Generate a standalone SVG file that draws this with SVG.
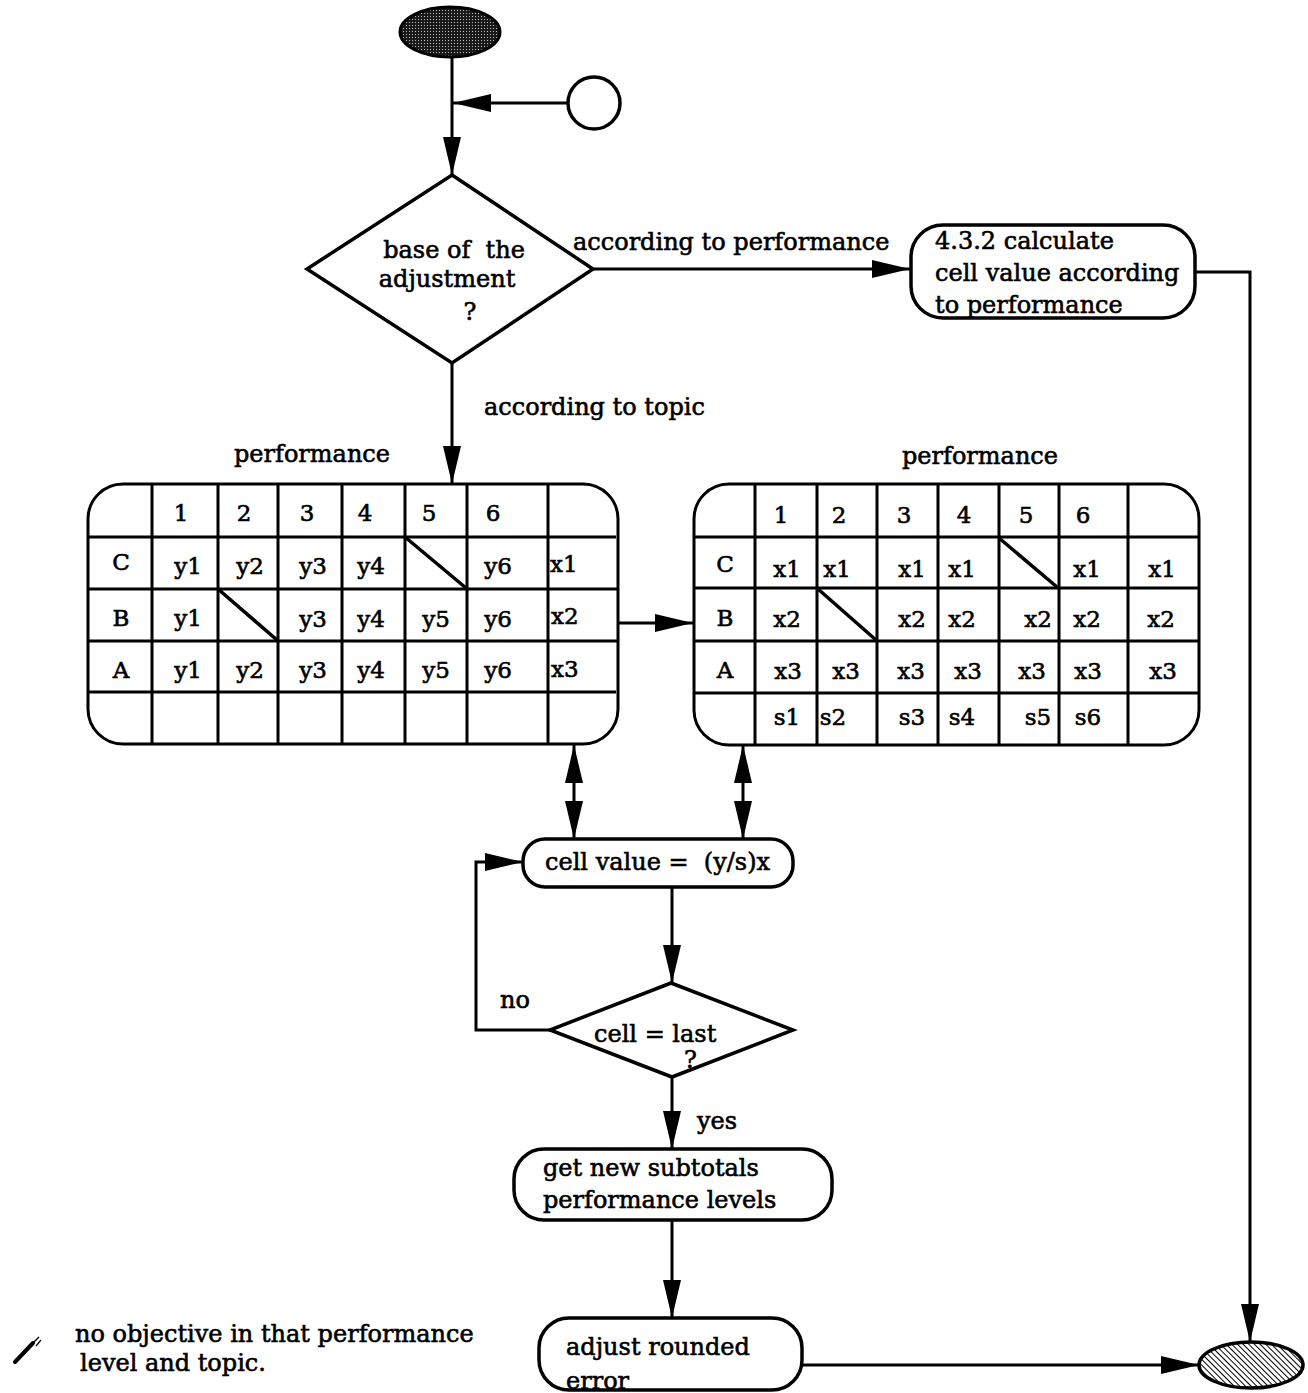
<svg xmlns="http://www.w3.org/2000/svg" width="1308" height="1393" viewBox="0 0 1308 1393">
<style>
  text { font-family: "DejaVu Serif", "Liberation Serif", serif; font-size: 24px; fill: #000; stroke: #000; stroke-width: 0.6px; }
  .tb { font-size: 23px; }
  .c { text-anchor: middle; }
  .ln { fill: none; stroke: #000; stroke-width: 3; }
  .shape { fill: #fff; stroke: #000; stroke-width: 3.5; }
  .grid { stroke: #000; stroke-width: 3; fill: none; }
  .diag { stroke: #000; stroke-width: 3.5; }
</style>
<defs>
  <marker id="ah" markerUnits="userSpaceOnUse" markerWidth="40" markerHeight="20" refX="38" refY="9" orient="auto-start-reverse">
    <path d="M0,0 L38,9 L0,18 z" fill="#000"/>
  </marker>
  <pattern id="stip" width="3" height="3" patternUnits="userSpaceOnUse">
    <rect width="3" height="3" fill="#1a1a1a"/>
    <rect x="1" y="1" width="1" height="1" fill="#bbb"/>
  </pattern>
  <pattern id="hatch" width="4" height="4" patternUnits="userSpaceOnUse" patternTransform="rotate(-45)">
    <rect width="4" height="4" fill="#fff"/>
    <line x1="0" y1="0" x2="0" y2="4" stroke="#000" stroke-width="2"/>
  </pattern>
</defs>

<g id="connectors">
  <line class="ln" x1="452" y1="57" x2="452" y2="175" marker-end="url(#ah)"/>
  <line class="ln" x1="568" y1="103" x2="453" y2="103" marker-end="url(#ah)"/>
  <line class="ln" x1="593" y1="269" x2="910" y2="269" marker-end="url(#ah)"/>
  <polyline class="ln" points="1195,272 1250,272 1250,1342" marker-end="url(#ah)"/>
  <line class="ln" x1="452" y1="363" x2="452" y2="484" marker-end="url(#ah)"/>
  <line class="ln" x1="618" y1="623" x2="693" y2="623" marker-end="url(#ah)"/>
  <line class="ln" x1="574" y1="745" x2="574" y2="839" marker-start="url(#ah)" marker-end="url(#ah)"/>
  <line class="ln" x1="743" y1="745" x2="743" y2="839" marker-start="url(#ah)" marker-end="url(#ah)"/>
  <line class="ln" x1="672" y1="887" x2="672" y2="983" marker-end="url(#ah)"/>
  <polyline class="ln" points="550,1030 476,1030 476,862 523,862" marker-end="url(#ah)"/>
  <line class="ln" x1="672" y1="1077" x2="672" y2="1149" marker-end="url(#ah)"/>
  <line class="ln" x1="672" y1="1220" x2="672" y2="1318" marker-end="url(#ah)"/>
  <line class="ln" x1="802" y1="1365" x2="1199" y2="1365" marker-end="url(#ah)"/>
  <text x="573" y="250">according to performance</text>
  <text x="484" y="415">according to topic</text>
  <text x="500" y="1008">no</text>
  <text x="697" y="1129">yes</text>
</g>

<g id="start">
  <ellipse cx="450" cy="32" rx="50" ry="25" fill="url(#stip)" stroke="#000" stroke-width="3"/>
</g>

<g id="entry">
  <circle cx="594" cy="103" r="26" class="shape" stroke-width="3"/>
</g>

<g id="decision-base">
  <polygon class="shape" points="452,175 593,269 452,363 307,269"/>
  <text class="c" x="454" y="258" xml:space="preserve">base of  the</text>
  <text class="c" x="447" y="287">adjustment</text>
  <text class="c" x="470" y="320">?</text>
</g>

<g id="calc-432">
  <rect class="shape" x="911" y="225" width="284" height="93" rx="32"/>
  <text x="935" y="249">4.3.2 calculate</text>
  <text x="935" y="281">cell value according</text>
  <text x="935" y="313">to performance</text>
</g>

<g id="table-topic">
  <text class="c" x="312" y="462">performance</text>
  <rect class="grid" x="88" y="484" width="530" height="260" rx="35"/>
  <path class="grid" d="M152,484V744 M218,484V744 M278,484V744 M342,484V744 M405,484V744 M467,484V744 M548,484V744
    M88,537H616 M88,589H618 M88,641H618 M88,692H616"/>
  <line class="diag" x1="405" y1="537" x2="466" y2="588"/>
  <line class="diag" x1="218" y1="589" x2="277" y2="640"/>
  <text class="c tb" x="181" y="521">1</text><text class="c tb" x="244" y="521">2</text><text class="c tb" x="307" y="521">3</text>
  <text class="c tb" x="365" y="521">4</text><text class="c tb" x="429" y="521">5</text><text class="c tb" x="493" y="521">6</text>
  <text class="c tb" x="121" y="570">C</text>
  <text class="c tb" x="188" y="574">y1</text><text class="c tb" x="250" y="574">y2</text><text class="c tb" x="313" y="574">y3</text>
  <text class="c tb" x="371" y="574">y4</text><text class="c tb" x="498" y="574">y6</text><text class="tb" x="550" y="572">x1</text>
  <text class="c tb" x="121" y="626">B</text>
  <text class="c tb" x="188" y="626">y1</text><text class="c tb" x="313" y="627">y3</text>
  <text class="c tb" x="371" y="627">y4</text><text class="c tb" x="436" y="627">y5</text><text class="c tb" x="498" y="627">y6</text><text class="tb" x="551" y="624">x2</text>
  <text class="c tb" x="121" y="678">A</text>
  <text class="c tb" x="188" y="678">y1</text><text class="c tb" x="250" y="678">y2</text><text class="c tb" x="313" y="678">y3</text>
  <text class="c tb" x="371" y="678">y4</text><text class="c tb" x="436" y="678">y5</text><text class="c tb" x="498" y="678">y6</text><text class="tb" x="551" y="677">x3</text>
</g>

<g id="table-performance">
  <text class="c" x="980" y="464">performance</text>
  <rect class="grid" x="694" y="484" width="505" height="261" rx="35"/>
  <path class="grid" d="M755,484V745 M817,484V745 M877,484V745 M938,484V745 M999,484V745 M1059,484V745 M1128,484V745
    M694,537H1199 M694,588H1199 M694,641H1199 M694,693H1199"/>
  <line class="diag" x1="999" y1="538" x2="1057" y2="587"/>
  <line class="diag" x1="818" y1="589" x2="876" y2="640"/>
  <text class="c tb" x="781" y="523">1</text><text class="c tb" x="839" y="523">2</text><text class="c tb" x="904" y="523">3</text>
  <text class="c tb" x="964" y="523">4</text><text class="c tb" x="1026" y="523">5</text><text class="c tb" x="1083" y="523">6</text>
  <text class="c tb" x="725" y="572">C</text>
  <text class="c tb" x="787" y="577">x1</text><text class="c tb" x="837" y="577">x1</text><text class="c tb" x="912" y="577">x1</text>
  <text class="c tb" x="962" y="577">x1</text><text class="c tb" x="1087" y="577">x1</text><text class="c tb" x="1162" y="577">x1</text>
  <text class="c tb" x="725" y="626">B</text>
  <text class="c tb" x="787" y="627">x2</text><text class="c tb" x="912" y="627">x2</text><text class="c tb" x="962" y="627">x2</text>
  <text class="c tb" x="1038" y="627">x2</text><text class="c tb" x="1087" y="627">x2</text><text class="c tb" x="1161" y="627">x2</text>
  <text class="c tb" x="725" y="678">A</text>
  <text class="c tb" x="788" y="679">x3</text><text class="c tb" x="846" y="679">x3</text><text class="c tb" x="911" y="679">x3</text>
  <text class="c tb" x="968" y="679">x3</text><text class="c tb" x="1032" y="679">x3</text><text class="c tb" x="1088" y="679">x3</text><text class="c tb" x="1163" y="679">x3</text>
  <text class="c tb" x="787" y="725">s1</text><text class="c tb" x="833" y="725">s2</text><text class="c tb" x="912" y="725">s3</text>
  <text class="c tb" x="962" y="725">s4</text><text class="c tb" x="1038" y="725">s5</text><text class="c tb" x="1088" y="725">s6</text>
</g>

<g id="cell-value">
  <rect class="shape" x="523" y="839" width="270" height="48" rx="22"/>
  <text x="545" y="870" xml:space="preserve">cell value =  (y/s)x</text>
</g>

<g id="decision-last">
  <polygon class="shape" points="671,983 793,1030 672,1077 550,1030"/>
  <text x="594" y="1042">cell = last</text>
  <text x="684" y="1068">?</text>
</g>

<g id="subtotals">
  <rect class="shape" x="514" y="1149" width="318" height="71" rx="30"/>
  <text x="543" y="1176">get new subtotals</text>
  <text x="543" y="1208">performance levels</text>
</g>

<g id="adjust">
  <rect class="shape" x="539" y="1318" width="263" height="72" rx="30"/>
  <text x="566" y="1355">adjust rounded</text>
  <text x="566" y="1389">error</text>
</g>

<g id="end">
  <ellipse cx="1251" cy="1365" rx="52" ry="23" fill="url(#hatch)" stroke="#000" stroke-width="3.5"/>
</g>

<g id="legend">
  <line x1="15" y1="1362" x2="33" y2="1343" stroke="#000" stroke-width="4" stroke-linecap="round"/>
  <line x1="33" y1="1343" x2="39" y2="1337" stroke="#000" stroke-width="1.5"/>
  <line x1="36" y1="1346" x2="41" y2="1340" stroke="#000" stroke-width="1.2"/>
  <text x="75" y="1342">no objective in that performance</text>
  <text x="80" y="1371">level and topic.</text>
</g>
</svg>
